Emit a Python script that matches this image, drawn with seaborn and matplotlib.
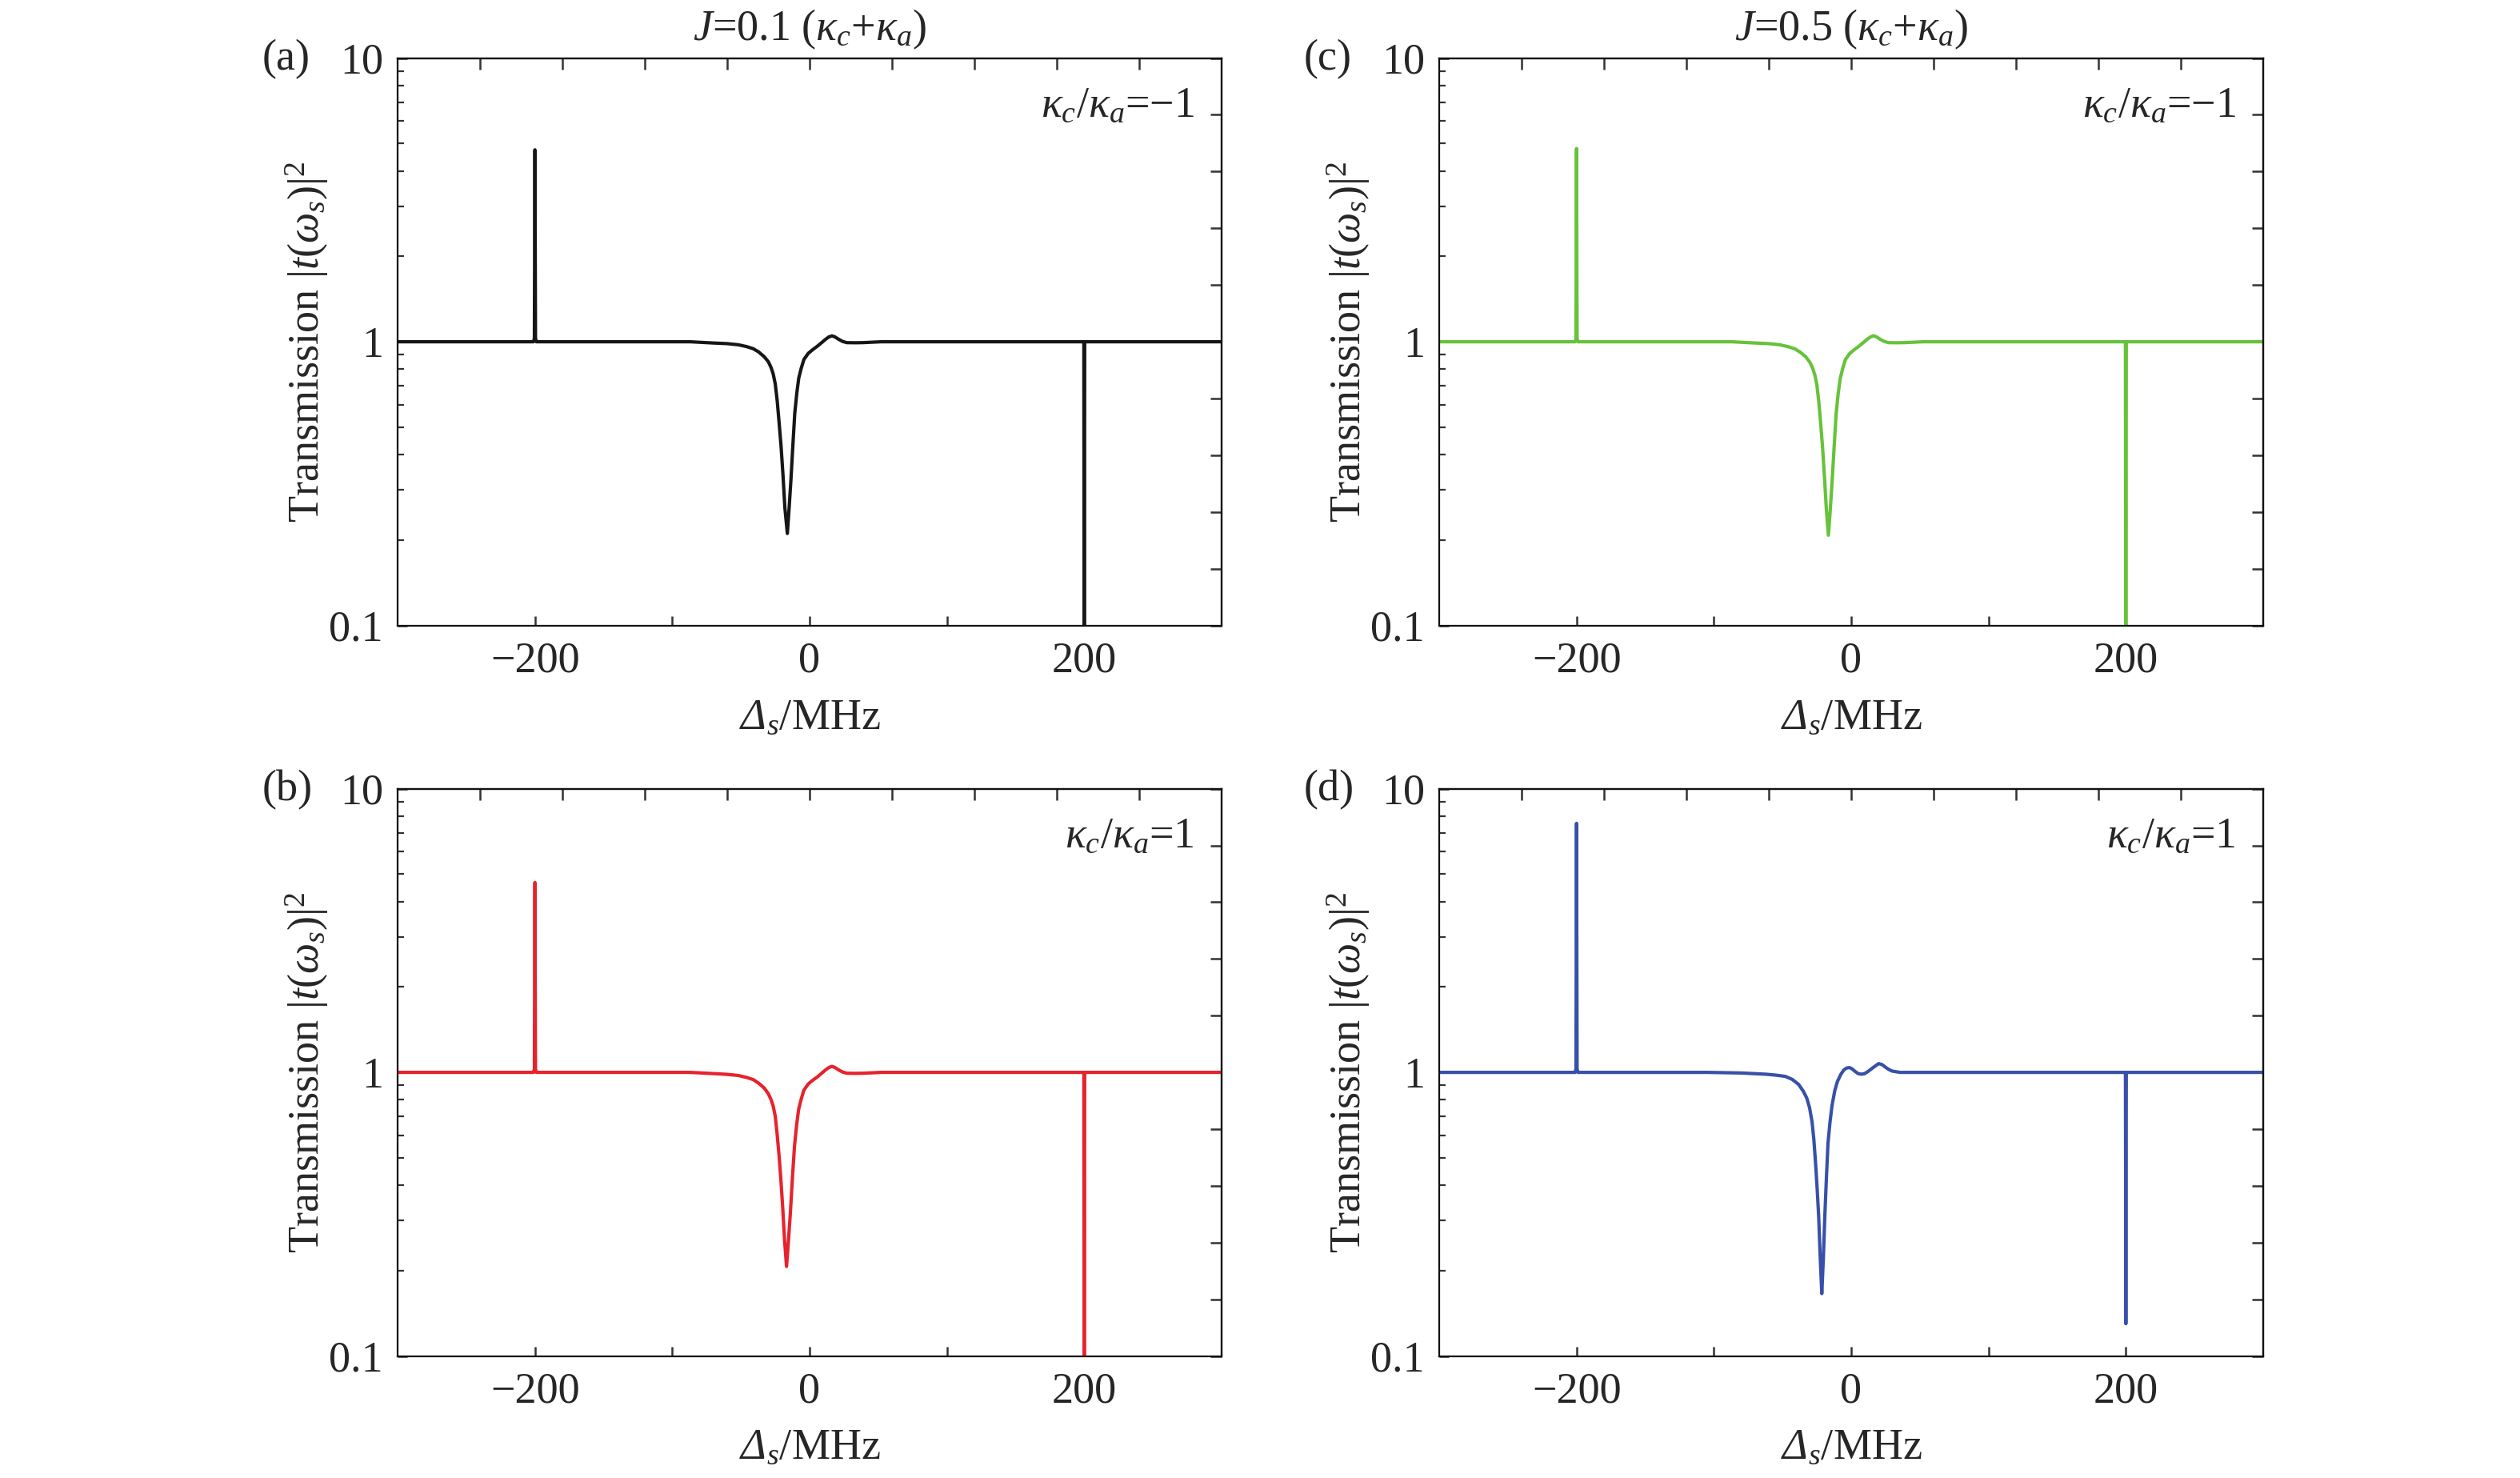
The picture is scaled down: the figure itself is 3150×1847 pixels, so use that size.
import numpy as np
import pandas as pd
import matplotlib
matplotlib.use("Agg")
import matplotlib.pyplot as plt
import seaborn as sns
from matplotlib.ticker import LogLocator, NullFormatter, NullLocator

# --------------------------------------------------------------
# Data (detuning in MHz, transmission)
# --------------------------------------------------------------

x_a = [-300, -201, -200.4, -200, -199.6, -199, -150, -100, -87, -70, -60, -52, -46, -41,
       -37, -33, -30, -28, -26.5, -25, -23.6, -22.3, -20.8, -19.4, -18, -16.2, -14.9,
       -13.6, -12.2, -10.8, -9.3, -7.9, -6, -4.1, -1, 1.9, 5.8, 9, 11.6, 14, 16.3, 18.5,
       21.2, 24, 27, 33, 39, 52, 100, 150, 199, 199.7, 200, 200.3, 201, 250, 300]
y_a = [1, 1, 1.03, 4.75, 1.03, 1, 1, 1, 1, 0.99, 0.985, 0.976, 0.962, 0.945,
       0.92, 0.885, 0.85, 0.81, 0.77, 0.71, 0.62, 0.525, 0.43, 0.34, 0.26, 0.211, 0.26,
       0.326, 0.43, 0.56, 0.66, 0.745, 0.81, 0.867, 0.91, 0.935, 0.966, 0.995, 1.02, 1.04, 1.049, 1.04,
       1.02, 1.003, 0.993, 0.992, 0.993, 1, 1, 1, 1, 1, 0.03, 1, 1, 1, 1]

x_b = [-300, -201, -200.4, -200, -199.6, -199, -150, -100, -87, -70, -60, -52, -46, -41,
       -37, -33, -30, -28, -26.5, -25, -23.7, -22.4, -21, -19.6, -18.2, -16.8, -15.4,
       -14, -12.5, -11, -9.5, -8, -6.1, -4.2, -1, 1.9, 5.8, 9, 11.6, 14, 16.3, 18.5,
       21.2, 24, 27, 33, 39, 52, 100, 150, 199, 199.7, 200, 200.3, 201, 250, 300]
y_b = [1, 1, 1.03, 4.67, 1.03, 1, 1, 1, 1, 0.99, 0.984, 0.975, 0.96, 0.943,
       0.915, 0.88, 0.84, 0.8, 0.76, 0.7, 0.61, 0.52, 0.425, 0.335, 0.255, 0.207, 0.255,
       0.32, 0.425, 0.55, 0.65, 0.74, 0.805, 0.865, 0.91, 0.935, 0.965, 0.995, 1.02, 1.04, 1.05, 1.04,
       1.02, 1.003, 0.993, 0.992, 0.993, 1, 1, 1, 1, 1, 0.03, 1, 1, 1, 1]

x_c = [-300, -201, -200.4, -200, -199.6, -199, -150, -100, -87, -70, -60, -52, -46, -41,
       -37, -33, -30, -28, -26.5, -25, -23.6, -22.3, -20.9, -19.5, -18.1, -16.6, -15.2,
       -13.9, -12.4, -11, -9.5, -8, -6.1, -4.2, -1, 1.9, 5.8, 9, 11.6, 14, 16.3, 18.5,
       21.2, 24, 27, 33, 39, 52, 100, 150, 199, 199.7, 200, 200.3, 201, 250, 300]
y_c = [1, 1, 1.03, 4.8, 1.03, 1, 1, 1, 1, 0.99, 0.985, 0.976, 0.961, 0.944,
       0.918, 0.884, 0.845, 0.805, 0.765, 0.705, 0.615, 0.52, 0.428, 0.336, 0.257, 0.208, 0.257,
       0.322, 0.428, 0.555, 0.655, 0.742, 0.808, 0.866, 0.91, 0.935, 0.966, 0.995, 1.02, 1.04, 1.05, 1.04,
       1.02, 1.003, 0.993, 0.992, 0.993, 1, 1, 1, 1, 1, 0.03, 1, 1, 1, 1]

x_d = [-300, -201, -200.4, -200, -199.6, -199, -150, -105, -80, -62, -55, -48, -43,
       -38.3, -35, -32.4, -30.3, -28.5, -27.2, -26, -24.8, -23.7, -22.5, -21.4, -20.3,
       -19.2, -18, -16.9, -15.4, -14, -12, -10.1, -7.5, -5.2, -3.2, -1.4, 0.5, 2.5, 5,
       7.4, 9.8, 12.2, 16, 20, 22.5, 24.8, 27.2, 29.7, 35.5, 60, 100, 150, 199, 199.7,
       200, 200.3, 201, 250, 300]
y_d = [1, 1, 1.03, 7.55, 1.03, 1, 1, 1, 0.995, 0.985, 0.978, 0.968, 0.945,
       0.907, 0.86, 0.813, 0.75, 0.669, 0.58, 0.483, 0.39, 0.312, 0.22, 0.166, 0.22,
       0.312, 0.43, 0.562, 0.67, 0.762, 0.86, 0.927, 0.985, 1.022, 1.036, 1.04, 1.03, 1.011, 0.99,
       0.985, 0.99, 1.007, 1.04, 1.074, 1.065, 1.044, 1.025, 1.011, 1, 1, 1, 1, 1, 1,
       0.13, 1, 1, 1, 1]

panel_tags = ["(a)", "(b)", "(c)", "(d)"]
ratio_texts = [r"$\kappa_c/\kappa_a$=−1", r"$\kappa_c/\kappa_a$=1",
               r"$\kappa_c/\kappa_a$=−1", r"$\kappa_c/\kappa_a$=1"]
column_titles = [r"$J$=0.1 ($\kappa_c$+$\kappa_a$)", r"$J$=0.5 ($\kappa_c$+$\kappa_a$)"]
line_colors = ["#161616", "#e6232d", "#66c23a", "#3850a8"]

x_major = [-200, -100, 0, 100, 200]
x_labels = ["−200", "", "0", "", "200"]
x_top = [-240, -180, -120, -60, 0, 60, 120, 180, 240]
y_major = [0.1, 1, 10]
y_labels = ["0.1", "1", "10"]
y_right = list(10 ** np.linspace(-1, 1, 11))

# --------------------------------------------------------------
# Style
# --------------------------------------------------------------

sns.set_theme(style="ticks")
plt.rcParams["font.family"] = ["Liberation Serif", "DejaVu Serif"]
plt.rcParams["mathtext.fontset"] = "custom"
plt.rcParams["mathtext.rm"] = "Liberation Serif"
plt.rcParams["mathtext.it"] = "Liberation Serif:italic"
plt.rcParams["mathtext.bf"] = "Liberation Serif:bold"
FS = 39

W, H = 3150, 1847
fig = plt.figure(figsize=(W / 100, H / 100), dpi=100)

# panel boxes in pixels: left, top
lefts = [497, 497, 1799, 1799]
tops = [72.6, 985.6, 72.6, 985.6]
box_w, box_h = 1030, 709

datasets = [(x_a, y_a), (x_b, y_b), (x_c, y_c), (x_d, y_d)]

for i, (xs, ys) in enumerate(datasets):
    l, t = lefts[i], tops[i]
    ax = fig.add_axes([l / W, 1 - (t + box_h) / H, box_w / W, box_h / H])
    df = pd.DataFrame({"detuning": xs, "T": ys})
    sns.lineplot(data=df, x="detuning", y="T", ax=ax, color=line_colors[i],
                 linewidth=3.0, estimator=None, sort=False)
    ax.set_yscale("log")
    ax.set_xlim(-300, 300)
    ax.set_ylim(0.1, 10)
    ax.set_xlabel("")
    ax.set_ylabel("")
    ax.set_xticks(x_major, labels=x_labels)
    ax.set_yticks(y_major, labels=y_labels)
    ax.yaxis.set_minor_locator(LogLocator(base=10, subs=np.arange(2, 10)))
    ax.yaxis.set_minor_formatter(NullFormatter())
    ax.xaxis.set_minor_locator(NullLocator())
    ax.tick_params(axis="both", which="major", direction="in", length=8.5, width=1.8,
                   labelsize=FS, top=False, right=False, color="#333333")
    ax.tick_params(axis="x", pad=14)
    ax.tick_params(axis="y", pad=13)
    ax.tick_params(axis="y", which="minor", direction="in", length=6, width=1.6,
                   right=False, color="#333333")
    for sp in ax.spines.values():
        sp.set_linewidth(1.6)
        sp.set_color("#111111")

    top_ax = ax.secondary_xaxis("top")
    top_ax.set_xticks(x_top)
    top_ax.xaxis.set_major_formatter(NullFormatter())
    top_ax.tick_params(axis="x", direction="in", length=10, width=1.8, color="#333333")
    top_ax.spines["top"].set_linewidth(1.6)

    right_ax = ax.secondary_yaxis("right")
    right_ax.set_yticks(y_right)
    right_ax.yaxis.set_minor_locator(NullLocator())
    right_ax.yaxis.set_major_formatter(NullFormatter())
    right_ax.tick_params(axis="y", direction="in", length=10, width=1.8, color="#333333")
    right_ax.spines["right"].set_linewidth(1.6)

    ax.text(0.967, 0.8966, ratio_texts[i], transform=ax.transAxes,
            ha="right", va="baseline", fontsize=FS)

    cx = l + box_w / 2
    fig.text((l - 169) / W, 1 - (t + 1.5) / H, panel_tags[i], ha="left", va="center",
             fontsize=FS)
    fig.text((l - 113) / W, 1 - (t + box_h / 2) / H, r"Transmission $|t(\omega_s)|^2$",
             rotation=90, ha="center", va="center", fontsize=FS)
    fig.text(cx / W, 1 - (t + 837.4) / H, r"$\mathdefault{\Delta}_s\mathrm{/MHz}$",
             ha="center", va="baseline", fontsize=FS, fontstyle="italic")
    if i in (0, 2):
        fig.text(cx / W, 1 - 50 / H, column_titles[i // 2], ha="center", va="baseline",
                 fontsize=FS)

fig.savefig("out.png", dpi=100, facecolor="white")
